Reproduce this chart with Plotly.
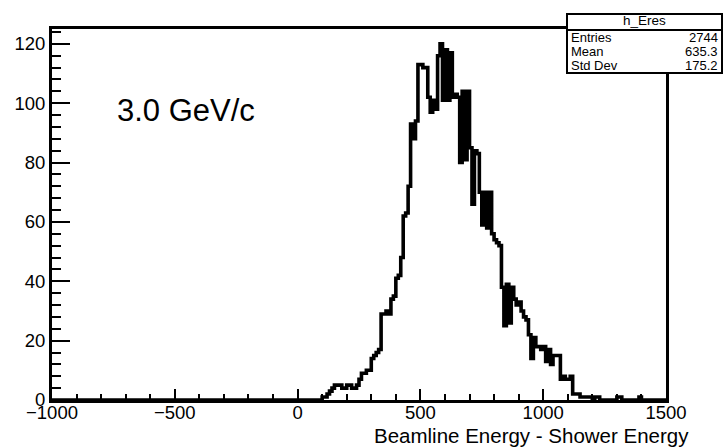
import numpy as np
import plotly.graph_objects as go

# Histogram binning
x_min, x_max, bin_width = -1000, 1500, 10
first_bin = 90  # lower edge of the first listed bin

# Bin contents, one per 10-unit bin starting at first_bin
counts = [
    0, 1, 1, 2, 3, 4, 5, 5, 5, 4,          # 90 - 180
    4, 5, 5, 4, 4, 5, 7, 9, 9, 10,         # 190 - 280
    10, 14, 15, 16, 17, 29, 29, 30, 29, 34,  # 290 - 380
    35, 41, 42, 48, 62, 63, 72, 93, 88, 94,  # 390 - 480
    113, 113, 112, 112, 102, 97, 101, 98, 116, 120,  # 490 - 580
    101, 118, 101, 117, 102, 103, 102, 80, 104, 81,  # 590 - 680
    104, 85, 66, 84, 83, 70, 59, 70, 58, 70,  # 690 - 780
    56, 54, 53, 52, 38, 25, 39, 26, 38, 34,  # 790 - 880
    32, 33, 30, 28, 27, 22, 14, 21, 18, 18,  # 890 - 980
    17, 18, 13, 17, 12, 15, 15, 15, 7, 8,    # 990 - 1080
    7, 7, 8, 2, 2, 2, 1, 1, 1, 1,            # 1090 - 1180
    1, 0, 1, 1, 0, 0, 0, 0, 0, 0,            # 1190 - 1280
    0, 1, 1, 0, 0, 0, 0, 0, 0, 0, 1,         # 1290 - 1390
]

y_max = 125
x_ticks = [-1000, -500, 0, 500, 1000, 1500]
y_ticks = [0, 20, 40, 60, 80, 100, 120]

hist_name = "h_Eres"
stat_names = ["Entries", "Mean", "Std Dev"]
stat_values = ["2744", "635.3", "175.2"]
label_text = "3.0 GeV/c"
x_title = "Beamline Energy - Shower Energy"

# Full bin array over the axis range
n_bins = (x_max - x_min) // bin_width
contents = np.zeros(n_bins)
i0 = (first_bin - x_min) // bin_width
contents[i0:i0 + len(counts)] = counts
edges = x_min + bin_width * np.arange(n_bins + 1)
step_y = np.append(contents, contents[-1])

W, H = 725, 448
ml, mr, mt, mb = 52, 59, 29, 48
pw, ph = W - ml - mr, H - mt - mb


def px(xp):
    return (xp - ml) / pw


def py(yp):
    return (H - mb - yp) / ph


font = "Liberation Sans, Arial, Helvetica, sans-serif"

fig = go.Figure()
fig.add_trace(go.Scatter(
    x=edges, y=step_y, mode="lines",
    line=dict(shape="hv", color="black", width=3.6),
    hoverinfo="skip", showlegend=False,
))

fig.update_layout(
    width=W, height=H,
    margin=dict(l=ml, r=mr, t=mt, b=mb, pad=0),
    paper_bgcolor="white", plot_bgcolor="white",
    font=dict(family=font, color="black", size=18),
    showlegend=False,
)

fig.update_xaxes(
    range=[x_min, x_max], tickvals=x_ticks,
    ticktext=[("\u2212" + str(-v)) if v < 0 else str(v) for v in x_ticks],
    ticks="inside", ticklen=11, tickwidth=2, tickcolor="black",
    minor=dict(dtick=100, tick0=0, ticks="inside", ticklen=6, tickwidth=2, tickcolor="black"),
    showline=True, linewidth=3, linecolor="black", mirror=True,
    showgrid=False, zeroline=False, tickfont=dict(size=18.5),
    ticklabelstandoff=-6,
)
fig.update_yaxes(
    range=[0, y_max], tickvals=y_ticks,
    ticks="inside", ticklen=18, tickwidth=2, tickcolor="black",
    minor=dict(dtick=4, tick0=0, ticks="inside", ticklen=9, tickwidth=2, tickcolor="black"),
    showline=True, linewidth=3, linecolor="black", mirror=True,
    showgrid=False, zeroline=False, tickfont=dict(size=18.5),
)

# Energy label inside the frame
fig.add_annotation(
    text=label_text, xref="paper", yref="paper",
    x=px(115), y=py(111), xanchor="left", yanchor="middle",
    showarrow=False, font=dict(size=31, family=font),
)

# Axis title, right-aligned past the frame edge
fig.add_annotation(
    text=x_title, xref="paper", yref="paper",
    x=px(690), y=py(436), xanchor="right", yanchor="middle",
    showarrow=False, font=dict(size=20.5, family=font), borderpad=0,
)

# Statistics box
bx0, bx1, by0, by1, bhead = 567, 722, 14, 73, 30
fig.add_shape(type="rect", xref="paper", yref="paper",
              x0=px(bx0), x1=px(bx1), y0=py(by1), y1=py(by0),
              line=dict(color="black", width=2), fillcolor="white", layer="above")
fig.add_shape(type="line", xref="paper", yref="paper",
              x0=px(bx0), x1=px(bx1), y0=py(bhead), y1=py(bhead),
              line=dict(color="black", width=2), layer="above")
fig.add_annotation(
    text=hist_name, xref="paper", yref="paper",
    x=px((bx0 + bx1) / 2), y=py((by0 + bhead) / 2 - 1.5), xanchor="center", yanchor="middle",
    showarrow=False, font=dict(size=13.5, family=font),
)
row_h = (by1 - bhead) / len(stat_names)
for k, (name, val) in enumerate(zip(stat_names, stat_values)):
    yc = bhead + row_h * (k + 0.5)
    fig.add_annotation(text=name, xref="paper", yref="paper",
                       x=px(bx0 + 3), y=py(yc), xanchor="left", yanchor="middle",
                       showarrow=False, font=dict(size=13, family=font),
                       borderpad=0)
    fig.add_annotation(text=val, xref="paper", yref="paper",
                       x=px(bx1 - 3), y=py(yc), xanchor="right", yanchor="middle",
                       showarrow=False, font=dict(size=13, family=font),
                       borderpad=0)

fig.write_html("out.html")
